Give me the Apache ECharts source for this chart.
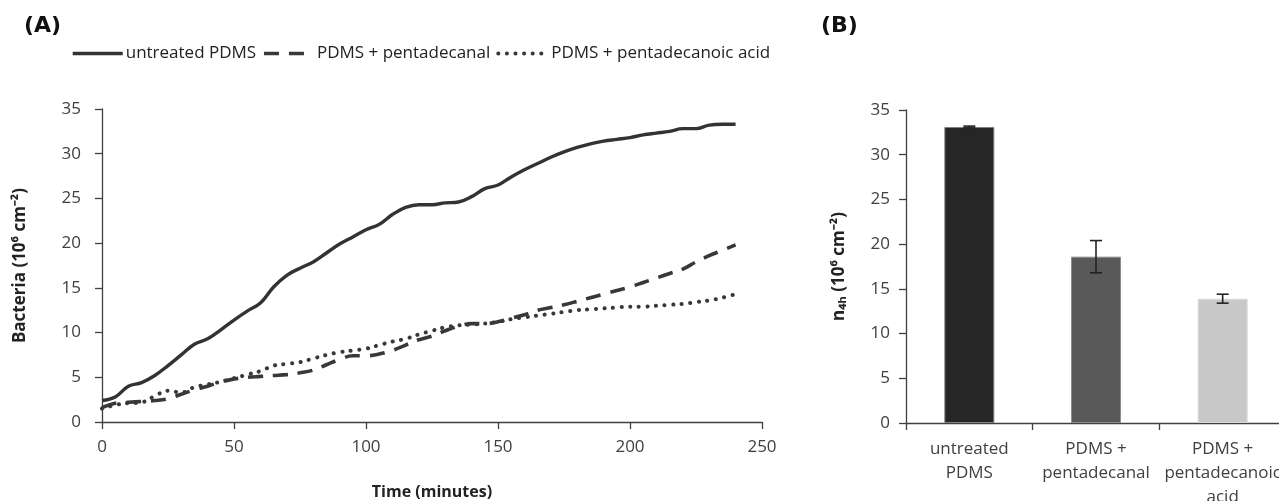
<!DOCTYPE html>
<html>
<head>
<meta charset="utf-8">
<script src="https://cdn.jsdelivr.net/npm/echarts@6/dist/echarts.min.js"></script>
<style>
html,body{margin:0;padding:0;background:#fff;}
#c{width:1279px;height:501px;}
</style>
</head>
<body>
<div id="c"></div>
<script>
// ---- Panel A data ----
var timeMin = [0,5,10,15,20,25,30,35,40,45,50,55,60,65,70,75,80,85,90,95,100,105,110,115,120,125,130,135,140,145,150,155,160,165,170,175,180,185,190,195,200,205,210,215,220,225,230,235,240];
var untreated = [2.4,2.8,4.0,4.4,5.2,6.3,7.5,8.7,9.3,10.3,11.4,12.4,13.3,15.1,16.4,17.2,17.9,18.9,19.9,20.7,21.5,22.1,23.2,24.0,24.3,24.3,24.5,24.6,25.2,26.1,26.5,27.4,28.2,28.9,29.6,30.2,30.7,31.1,31.4,31.6,31.8,32.1,32.3,32.5,32.8,32.8,33.2,33.3,33.3];
var pentadecanal = [1.6,2.1,2.2,2.3,2.4,2.6,3.1,3.6,4.0,4.5,4.8,5.0,5.1,5.2,5.3,5.5,5.8,6.4,7.0,7.4,7.4,7.6,8.0,8.6,9.2,9.6,10.2,10.7,11.0,11.0,11.2,11.6,12.0,12.5,12.8,13.1,13.5,13.9,14.3,14.7,15.1,15.6,16.1,16.6,17.1,17.9,18.6,19.2,19.8];
var pentadecanoic = [1.5,1.9,2.1,2.2,2.9,3.5,3.3,3.9,4.2,4.5,4.9,5.3,5.7,6.3,6.5,6.7,7.1,7.5,7.8,8.0,8.2,8.6,9.0,9.3,9.8,10.2,10.6,10.8,10.9,11.0,11.2,11.5,11.7,11.9,12.1,12.3,12.5,12.6,12.7,12.8,12.9,12.9,13.0,13.1,13.2,13.4,13.6,13.9,14.3];
var seriesNames = ['untreated PDMS','PDMS + pentadecanal','PDMS + pentadecanoic acid'];

// ---- Panel B data ----
var barCategories = ['untreated\nPDMS','PDMS +\npentadecanal','PDMS +\npentadecanoic\nacid'];
var barValues = [33.1, 18.6, 13.9];
var barErrors = [0.1, 1.8, 0.5];

function pair(xs, ys){ var r=[]; for(var i=0;i<xs.length;i++) r.push([xs[i], ys[i]]); return r; }

var errData = barValues.map(function(v,i){ return [i, v - barErrors[i], v + barErrors[i]]; });

var tickFont = {fontFamily:'Open Sans', fontSize:17, color:'#404040'};
var axisLineStyle = {color:'#404040', width:1.3};

var chart = echarts.init(document.getElementById('c'), null, {renderer:'canvas'});
chart.setOption({
  animation:false,
  backgroundColor:'#fff',
  graphic:[
    {type:'text', left:24, top:15, style:{text:'(A)', fontFamily:'DejaVu Sans', fontWeight:'bold', fontSize:22, fill:'#111'}},
    {type:'text', left:821, top:15, style:{text:'(B)', fontFamily:'DejaVu Sans', fontWeight:'bold', fontSize:22, fill:'#111'}}
  ],
  legend:{
    left:66, top:40,
    itemWidth:50, itemHeight:14, itemGap:6,
    itemStyle:{opacity:0},
    lineStyle:{width:'inherit'},
    textStyle:{fontFamily:'Open Sans', fontSize:17, color:'#222', padding:[0,0,0,-2]},
    data:seriesNames
  },
  grid:[
    {left:102, right:517, top:109, bottom:79, outerBoundsMode:'none', containLabel:false},
    {left:906, width:380, top:110, bottom:78, outerBoundsMode:'none', containLabel:false}
  ],
  xAxis:[
    {gridIndex:0, type:'value', min:0, max:250, interval:50,
     name:'Time (minutes)', nameLocation:'middle', nameGap:62,
     nameTextStyle:{fontFamily:'Open Sans', fontWeight:'bold', fontSize:16, color:'#222'},
     axisLine:{show:true, lineStyle:axisLineStyle},
     axisTick:{show:true, inside:false, length:7, lineStyle:axisLineStyle},
     axisLabel:Object.assign({margin:17}, tickFont),
     splitLine:{show:false}},
    {gridIndex:1, type:'category', data:barCategories,
     axisLine:{show:true, lineStyle:axisLineStyle},
     axisTick:{show:true, alignWithLabel:false, length:7, lineStyle:axisLineStyle},
     axisLabel:Object.assign({margin:14, lineHeight:24, interval:0}, tickFont)}
  ],
  yAxis:[
    {gridIndex:0, type:'value', min:0, max:35, interval:5,
     name:'Bacteria (10\u2076 cm\u207B\u00B2)', nameLocation:'middle', nameGap:73, nameRotate:90,
     nameTextStyle:{fontFamily:'Open Sans', fontWeight:'bold', fontSize:17, color:'#222'},
     axisLine:{show:true, lineStyle:axisLineStyle},
     axisTick:{show:true, length:7, lineStyle:axisLineStyle},
     axisLabel:Object.assign({margin:21}, tickFont),
     splitLine:{show:false}},
    {gridIndex:1, type:'value', min:0, max:35, interval:5,
     name:'n\u2084\u2095 (10\u2076 cm\u207B\u00B2)', nameLocation:'middle', nameGap:58, nameRotate:90,
     nameTextStyle:{fontFamily:'Open Sans', fontWeight:'bold', fontSize:17, color:'#222'},
     axisLine:{show:true, lineStyle:axisLineStyle},
     axisTick:{show:true, length:7, lineStyle:axisLineStyle},
     axisLabel:Object.assign({margin:16}, tickFont),
     splitLine:{show:false}}
  ],
  series:[
    {name:seriesNames[0], type:'line', xAxisIndex:0, yAxisIndex:0, data:pair(timeMin, untreated),
     showSymbol:false, symbol:'none', smooth:0.4,
     lineStyle:{color:'#333', width:3.4}, itemStyle:{color:'#333'}},
    {name:seriesNames[1], type:'line', xAxisIndex:0, yAxisIndex:0, data:pair(timeMin, pentadecanal),
     showSymbol:false, symbol:'none', smooth:0.4,
     lineStyle:{color:'#383838', width:3.6, type:[15,10]}, itemStyle:{color:'#383838'}},
    {name:seriesNames[2], type:'line', xAxisIndex:0, yAxisIndex:0, data:pair(timeMin, pentadecanoic),
     showSymbol:false, symbol:'none', smooth:0.4,
     lineStyle:{color:'#383838', width:4, type:[0.1,8.5], cap:'round'}, itemStyle:{color:'#383838'}},
    {name:'n4h', type:'bar', xAxisIndex:1, yAxisIndex:1, barWidth:50,
     data:barValues.map(function(v,i){
       var cols=['#262626','#595959','#c8c8c8'];
       var bcols=['#808080','#8c8c8c','#dcdcdc'];
       return {value:v, itemStyle:{color:cols[i], borderColor:bcols[i], borderWidth:1}};
     })},
    {name:'err', type:'custom', xAxisIndex:1, yAxisIndex:1, data:errData,
     renderItem:function(params, api){
       var x = api.value(0);
       var lo = api.coord([x, api.value(1)]);
       var hi = api.coord([x, api.value(2)]);
       var hw = 6;
       var st = {stroke:'#222', lineWidth:1.6, fill:null};
       return {type:'group', children:[
         {type:'line', shape:{x1:lo[0], y1:lo[1], x2:hi[0], y2:hi[1]}, style:st},
         {type:'line', shape:{x1:lo[0]-hw, y1:lo[1], x2:lo[0]+hw, y2:lo[1]}, style:st},
         {type:'line', shape:{x1:hi[0]-hw, y1:hi[1], x2:hi[0]+hw, y2:hi[1]}, style:st}
       ]};
     }, z:10}
  ]
});
</script>
</body>
</html>
